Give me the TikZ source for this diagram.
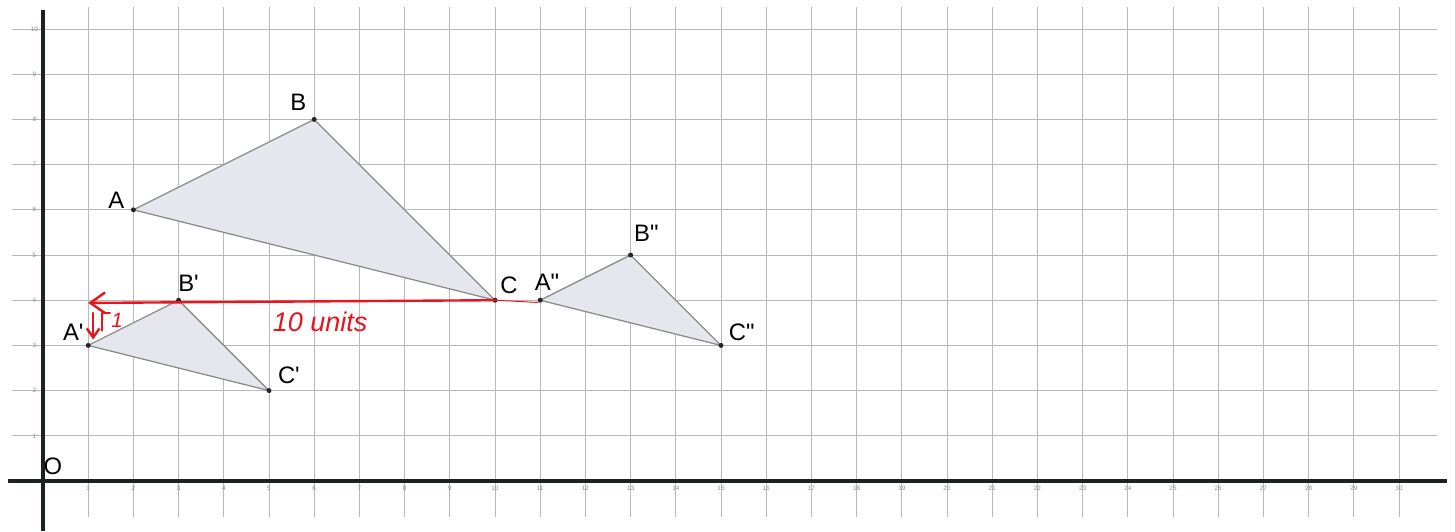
\documentclass[tikz,border=0pt]{standalone}
\usepackage{fontspec}
\setmainfont{Liberation Sans}
\usepackage{tikz}
\usetikzlibrary{arrows.meta}

\definecolor{trifill}{HTML}{E6E6EE}
\definecolor{redink}{HTML}{E8141E}
\definecolor{axisink}{HTML}{1C2222}

\tikzset{
  gridline/.style={black!28, line width=0.55pt},
  axisline/.style={axisink, line width=3pt},
  triangle/.style={draw=black!45, line width=0.8pt, fill=trifill},
  ptlabel/.style={font=\fontsize{15}{18}\selectfont, inner sep=0pt},
  ticklabel/.style={font=\fontsize{4}{5}\selectfont, text=black!45, inner sep=0pt},
  redpen/.style={redink, line width=1.5pt, line cap=round, line join=round},
  redtext/.style={text=redink, inner sep=0pt}
}

\begin{document}
\begin{tikzpicture}
	
	\useasboundingbox (-0.951,-1.106) rectangle (31.239,10.642);
	
	% Grid lines
	\foreach \i in {1,...,30}
		\draw[gridline] (\i,-0.8) -- (\i,10.49);
	\foreach \j in {1,...,10}
		\draw[gridline] (-0.69,\j) -- (30.84,\j);
	
	% Tick labels
	\foreach \i in {1,...,30}
		\node[ticklabel] (tx\i) at (\i,-0.17) {\i};
	\foreach \j in {1,...,10}
		\node[ticklabel] (ty\j) at (-0.19,\j) {\j};
	
	% Origin (partly under the axis)
	\node[ptlabel] (O) at (0.22,0.33) {O};
	
	% Axes
	\draw[axisline] (-0.77,0) -- (31.06,0);
	\draw[axisline] (0,-1.106) -- (0,10.42);
	
	% Vertices
	\coordinate (A)  at (2,6);    % A
	\coordinate (B)  at (6,8);    % B
	\coordinate (C)  at (10,4);   % C
	\coordinate (A1) at (1,3);    % A'
	\coordinate (B1) at (3,4);    % B'
	\coordinate (C1) at (5,2);    % C'
	\coordinate (A2) at (11,4);   % A''
	\coordinate (B2) at (13,5);   % B''
	\coordinate (C2) at (15,3);   % C''
	
	% Triangles
	\draw[triangle] (A) -- (B) -- (C) -- cycle;
	\draw[triangle] (A1) -- (B1) -- (C1) -- cycle;
	\draw[triangle] (A2) -- (B2) -- (C2) -- cycle;
	
	\foreach \p in {A,B,C,A1,B1,C1,A2,B2,C2}
		\fill[black!85] (\p) circle (0.055);
	
	% Labels
	\node[ptlabel, xshift=-0.38cm, yshift=0.22cm] (lA) at (A) {A};
	\node[ptlabel, xshift=-0.35cm, yshift=0.38cm] (lB) at (B) {B};
	\node[ptlabel, xshift=0.31cm, yshift=0.33cm] (lC) at (C) {C};
	\node[ptlabel, xshift=-0.33cm, yshift=0.29cm] (lA1) at (A1) {A\textquotesingle};
	\node[ptlabel, xshift=0.22cm, yshift=0.38cm] (lB1) at (B1) {B\textquotesingle};
	\node[ptlabel, xshift=0.44cm, yshift=0.33cm] (lC1) at (C1) {C\textquotesingle};
	\node[ptlabel, xshift=0.15cm, yshift=0.4cm] (lA2) at (A2) {A\textquotedbl};
	\node[ptlabel, xshift=0.35cm, yshift=0.49cm] (lB2) at (B2) {B\textquotedbl};
	\node[ptlabel, xshift=0.46cm, yshift=0.29cm] (lC2) at (C2) {C\textquotedbl};
	
	% Red marks: 10 units left, 1 down
	\coordinate (tipL)  at (1.0,3.94);
	\coordinate (tailR) at (10.95,3.95);
	\draw[redpen, line width=0.6pt] (C) -- (tailR);
	\draw[redpen, -{Straight Barb[length=3.3mm, width=4.6mm]}] (C) -- (tipL);
	
	\coordinate (dnTop) at (1.11,3.72);
	\coordinate (dnBot) at (1.11,3.13);
	\draw[redpen, -{Straight Barb[length=2mm, width=2.8mm]}] (dnTop) -- (dnBot);
	\draw[redpen] (1.3,3.33) -- (1.3,3.72) -- (1.48,3.72);
	\node[redtext, font=\fontsize{13}{15}\selectfont\itshape] (one) at (1.64,3.55) {1};
	\node[redtext, font=\fontsize{17}{20}\selectfont\itshape] (units) at (6.13,3.52) {10 units};
	
\end{tikzpicture}
\end{document}
